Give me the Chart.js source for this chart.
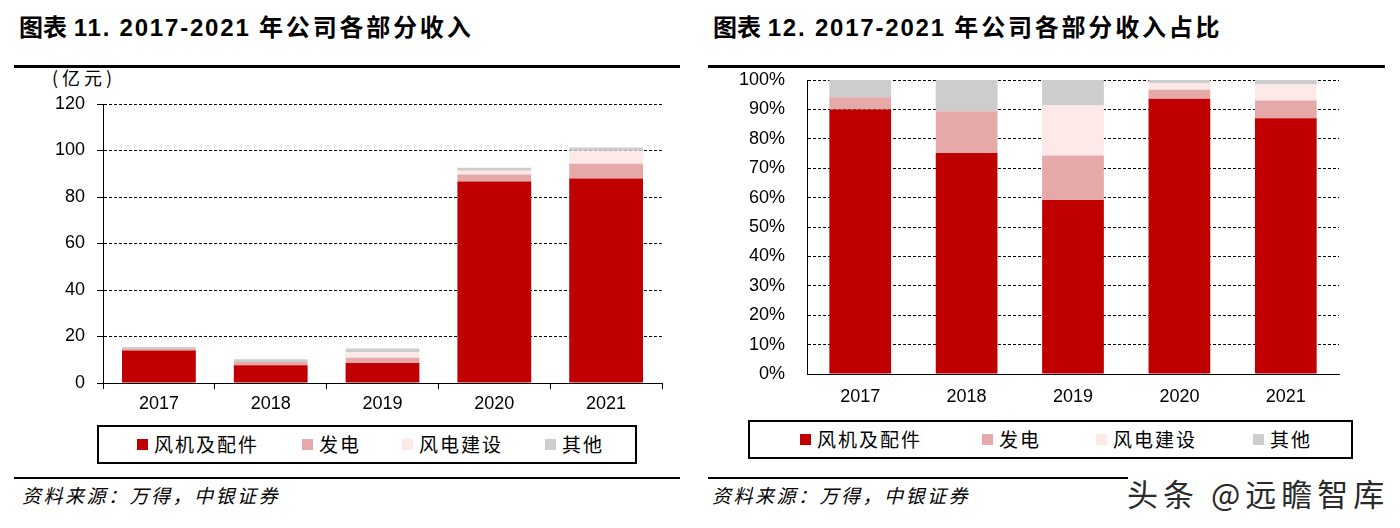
<!DOCTYPE html>
<html>
<head>
<meta charset="utf-8">
<script src="https://cdn.jsdelivr.net/npm/chart.js@4"></script>
<style>
  html, body { margin:0; padding:0; background:#fff; width:1400px; height:528px; overflow:hidden; }
  body { position:relative; font-family:"Liberation Sans","Noto Sans CJK SC",sans-serif; color:#000; }
  .abs { position:absolute; }
  .title { font-size:24px; font-weight:bold; white-space:nowrap; line-height:28px; }
  .title .cn { letter-spacing:2.8px; }
  .title .lat { letter-spacing:1.8px; }
  .rule { height:3px; background:#000; }
  .foot { font-family:"Noto Sans CJK SC",sans-serif; font-style:italic; font-size:19px; letter-spacing:2.5px; white-space:nowrap; line-height:24px; }
  .legbox { border:2px solid #000; box-sizing:border-box; }
  .legitem { font-family:"Noto Sans CJK SC",sans-serif; font-size:19px; letter-spacing:2px; white-space:nowrap; line-height:24px; display:flex; align-items:center; }
  .sw { width:11px; height:11px; margin-right:6px; display:inline-block; }
  .unit { font-family:"Noto Sans CJK SC",sans-serif; font-size:18px; letter-spacing:4px; white-space:nowrap; line-height:22px; }
  .wm { font-family:"Noto Sans CJK SC",sans-serif; font-size:31px; letter-spacing:5px; white-space:nowrap; color:#2a2a2a; line-height:34px;
        text-shadow: 1px 1px 0 #fff, -1px -1px 0 #fff, 2px 0 0 #fff; }
</style>
</head>
<body>
<div class="abs title" style="left:19px; top:14px;"><span>图表 </span><span class="lat">11. 2017-2021 </span><span class="cn">年公司各部分收入</span></div>
<div class="abs title" style="left:713px; top:14px;"><span>图表 </span><span class="lat">12. 2017-2021 </span><span class="cn">年公司各部分收入占比</span></div>
<div class="abs rule" style="left:14px; top:65px; width:666px;"></div>
<div class="abs rule" style="left:708px; top:65px; width:677px;"></div>
<div class="abs unit" style="left:52px; top:66px;">(亿元)</div>

<div class="abs" style="left:0px; top:90px; width:690px; height:330px;"><canvas id="c1"></canvas></div>
<div class="abs" style="left:700px; top:66px; width:660px; height:349px;"><canvas id="c2"></canvas></div>

<div class="abs legbox" id="leg1" style="left:97px; top:425px; width:540px; height:39px;"></div>
<div class="abs legbox" id="leg2" style="left:748px; top:420px; width:605px; height:39px;"></div>

<div class="abs rule" style="left:14px; top:477px; width:666px; height:2px;"></div>
<div class="abs rule" style="left:708px; top:477px; width:420px; height:2px;"></div>
<div class="abs foot" style="left:22px; top:483px;">资料来源：万得，中银证券</div>
<div class="abs foot" style="left:712px; top:483px;">资料来源：万得，中银证券</div>
<div class="abs wm" style="left:1127px; top:476px;">头条 @远瞻智库</div>

<script>
// ---- data ----
const categories = ['2017', '2018', '2019', '2020', '2021'];
const seriesNames = ['风机及配件', '发电', '风电建设', '其他'];
// revenue, 亿元
const windTurbineRev = [14.0, 7.6, 8.6, 86.7, 88.0];
const powerGenRev    = [0.6, 1.4, 2.3, 3.0, 6.3];
const windFarmRev    = [0, 0, 2.3, 1.6, 5.6];
const otherRev       = [0.9, 1.2, 1.6, 1.3, 1.4];
// share, %
const windTurbinePct = [90.0, 75.2, 59.2, 93.6, 87.0];
const powerGenPct    = [4.1, 14.2, 15.1, 3.1, 6.0];
const windFarmPct    = [0, 0, 17.0, 2.2, 5.5];
const otherPct       = [5.9, 10.6, 8.7, 1.1, 1.5];
const revTicks = [0, 20, 40, 60, 80, 100, 120];
const pctTicks = [0, 10, 20, 30, 40, 50, 60, 70, 80, 90, 100];

const colors = ['#C00000', '#E6A9A9', '#FDE9E8', '#CDCDCD'];

function ds(arrs, barPct) {
  return arrs.map((d, i) => ({
    label: seriesNames[i], data: d, backgroundColor: colors[i], borderWidth: 0,
    barPercentage: barPct, categoryPercentage: 1.0, stack: 's'
  }));
}
const tickFont = { family: 'Liberation Sans', size: 18 };

Chart.defaults.animation = false;

new Chart(document.getElementById('c1'), {
  type: 'bar',
  data: { labels: categories, datasets: ds([windTurbineRev, powerGenRev, windFarmRev, otherRev], 0.66) },
  options: {
    responsive: true, maintainAspectRatio: false, devicePixelRatio: 1,
    layout: { padding: { top: 14, right: 28, left: 0, bottom: 0 } },
    plugins: { legend: { display: false }, tooltip: { enabled: false } },
    scales: {
      x: {
        stacked: true,
        grid: { display: true, drawOnChartArea: false, drawTicks: true, tickLength: 6, tickColor: '#000', offset: true, tickWidth: 1 },
        border: { display: true, color: '#000', width: 1 },
        ticks: { color: '#000', font: tickFont, padding: 4, maxRotation: 0 },
        afterFit: s => { s.height = 37; s.paddingLeft = 0; s.paddingRight = 0; }
      },
      y: {
        stacked: true, min: 0, max: 120,
        afterBuildTicks: s => { s.ticks = revTicks.map(v => ({ value: v })); },
        grid: { color: '#000', lineWidth: 1, drawTicks: true, tickLength: 6, tickColor: '#000', tickBorderDash: [] },
        border: { display: true, color: '#000', width: 1, dash: [3, 2] },
        ticks: { color: '#000', font: tickFont, padding: 12 },
        afterFit: s => { s.width = 103; s.paddingTop = 0; s.paddingBottom = 0; }
      }
    }
  }
});

new Chart(document.getElementById('c2'), {
  type: 'bar',
  data: { labels: categories, datasets: ds([windTurbinePct, powerGenPct, windFarmPct, otherPct], 0.58) },
  options: {
    responsive: true, maintainAspectRatio: false, devicePixelRatio: 1,
    layout: { padding: { top: 14, right: 21, left: 0, bottom: 0 } },
    plugins: { legend: { display: false }, tooltip: { enabled: false } },
    scales: {
      x: {
        stacked: true,
        grid: { display: false },
        border: { display: true, color: '#000', width: 1 },
        ticks: { color: '#000', font: tickFont, padding: 4, maxRotation: 0 },
        afterFit: s => { s.height = 41; s.paddingLeft = 0; s.paddingRight = 0; }
      },
      y: {
        stacked: true, min: 0, max: 100,
        afterBuildTicks: s => { s.ticks = pctTicks.map(v => ({ value: v })); },
        grid: { color: '#000', lineWidth: 1, drawTicks: false },
        border: { display: true, color: '#000', width: 1, dash: [3, 2] },
        ticks: { color: '#000', font: tickFont, padding: 22, callback: v => v + '%' },
        afterFit: s => { s.width = 107; s.paddingTop = 0; s.paddingBottom = 0; }
      }
    }
  }
});

// HTML legends
function buildLegend(id, positions, top) {
  const box = document.getElementById(id);
  seriesNames.forEach((n, i) => {
    const it = document.createElement('div');
    it.className = 'abs legitem';
    it.style.left = positions[i] + 'px';
    it.style.top = top + 'px';
    it.innerHTML = '<span class="sw" style="background:' + colors[i] + '"></span>' + n;
    box.appendChild(it);
  });
}
buildLegend('leg1', [38, 203, 303, 446], 5);
buildLegend('leg2', [50, 232, 346, 503], 5);
</script>
</body>
</html>
